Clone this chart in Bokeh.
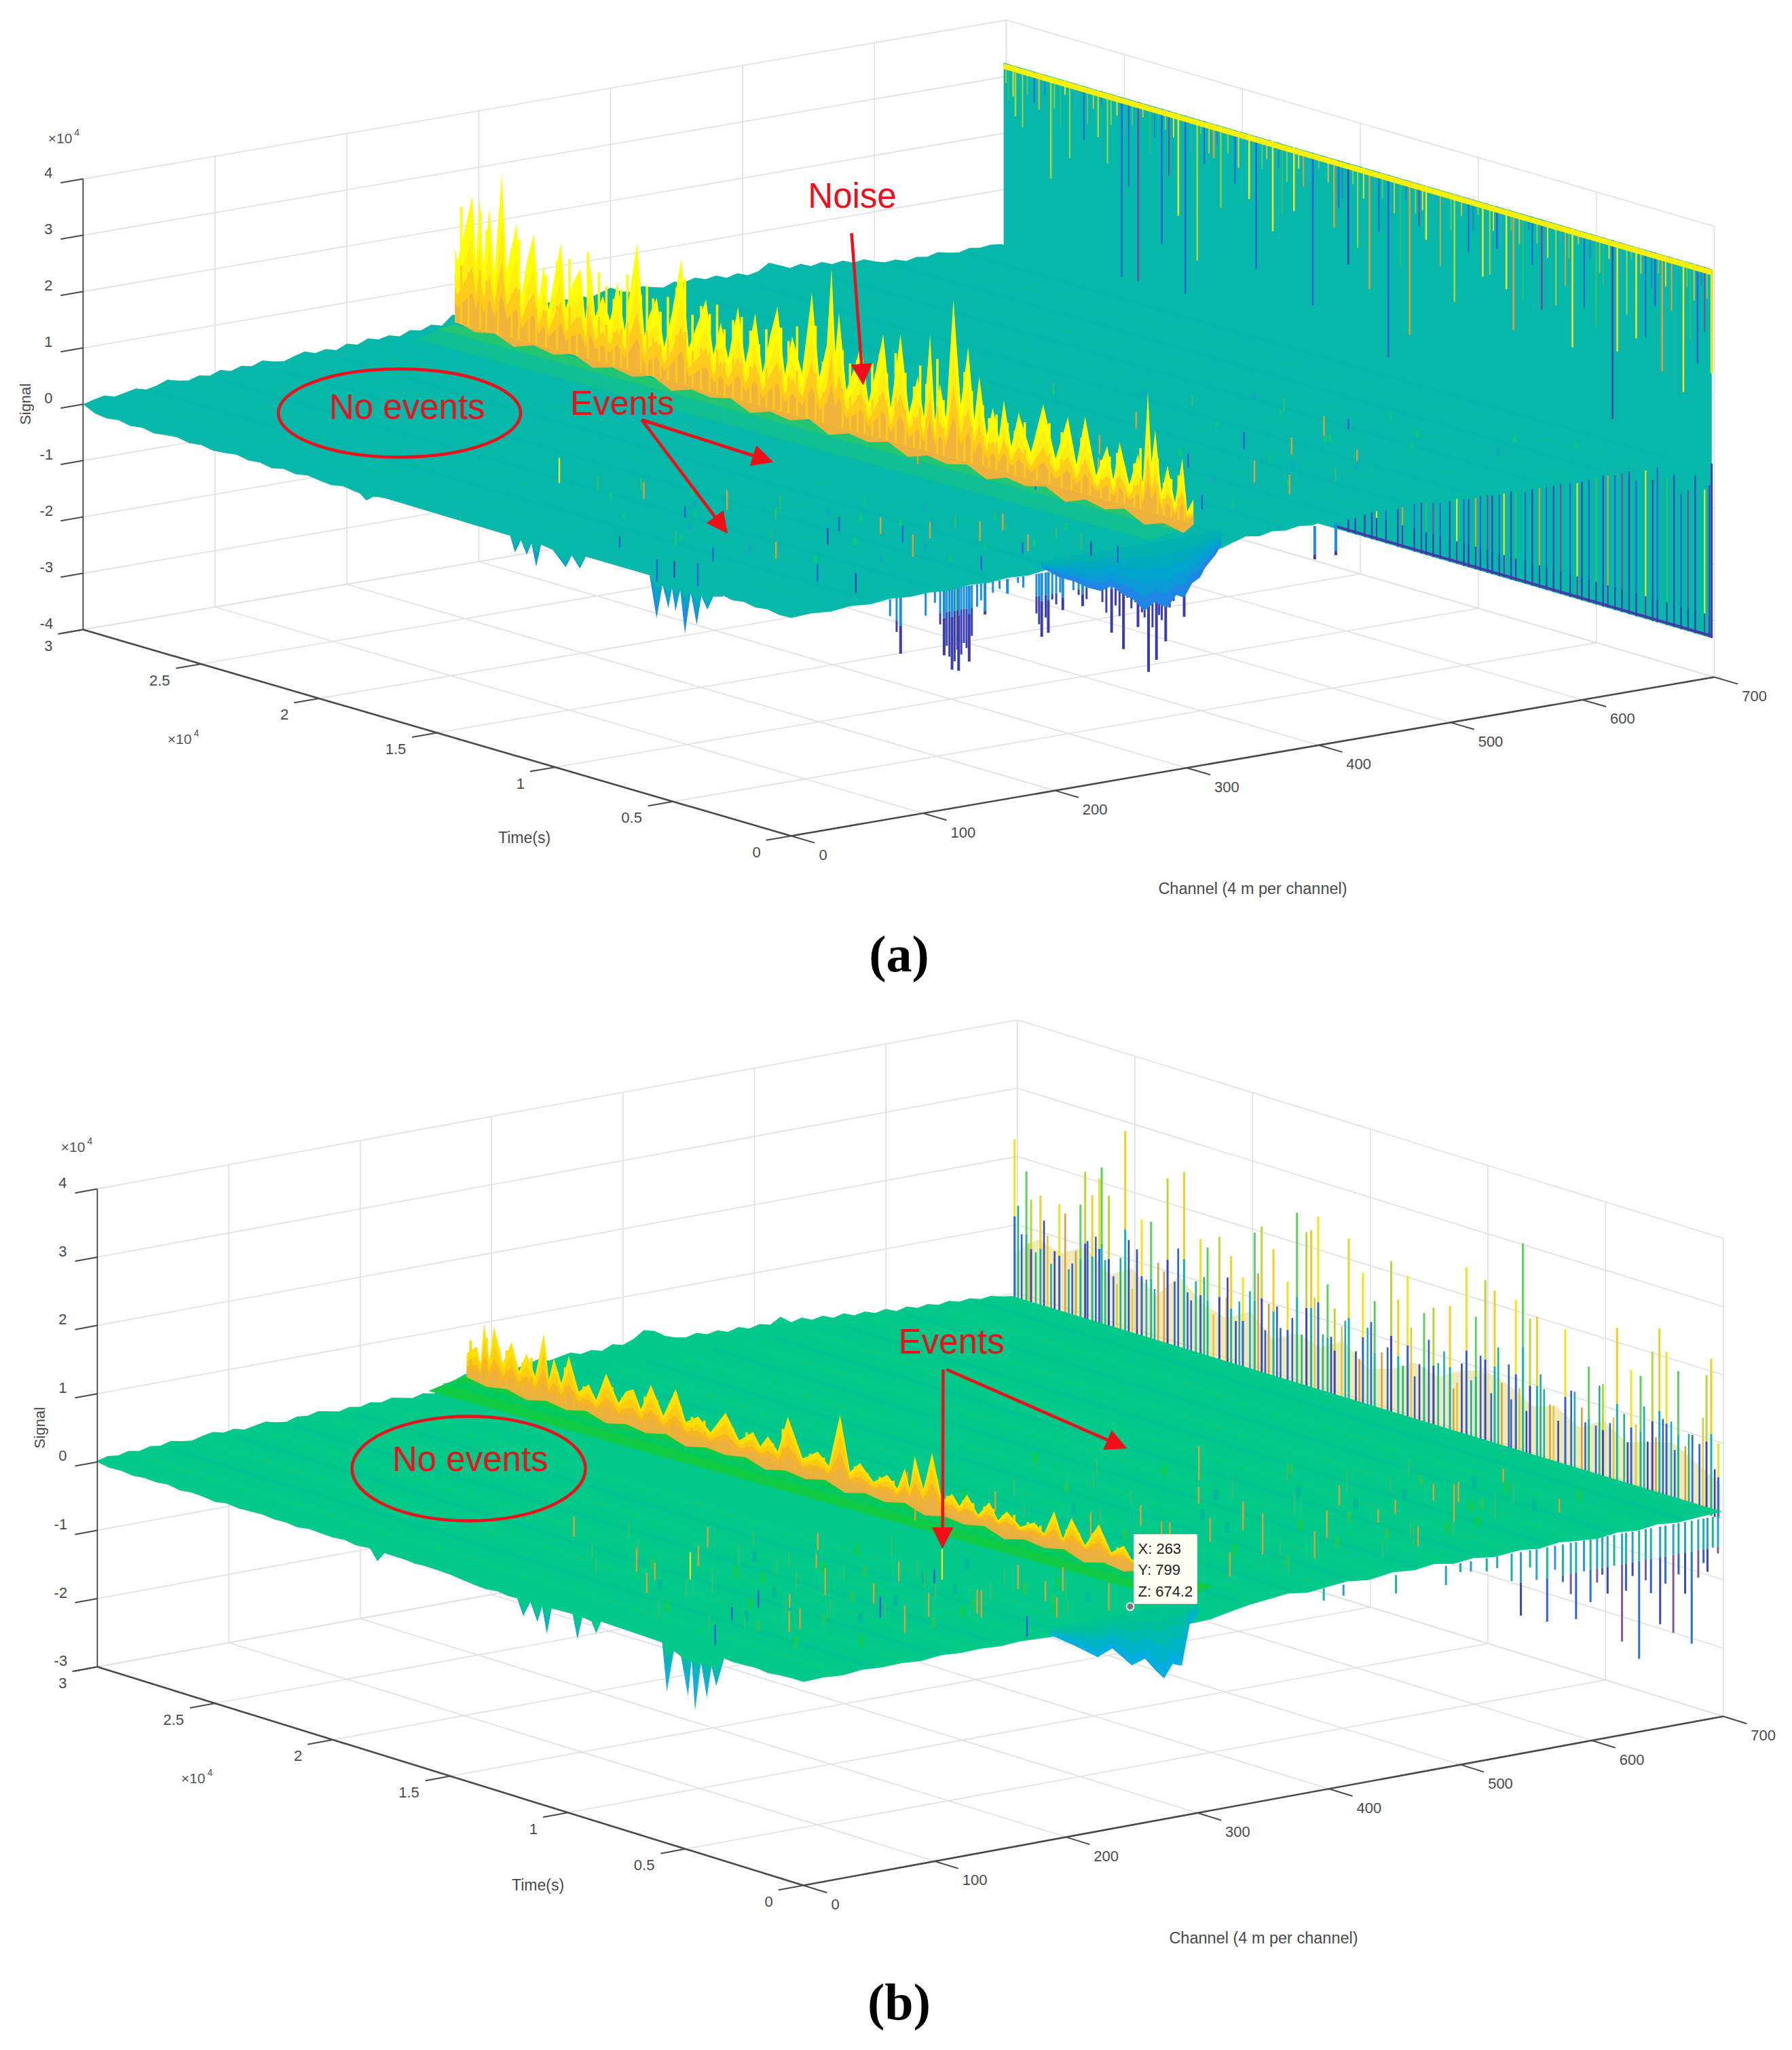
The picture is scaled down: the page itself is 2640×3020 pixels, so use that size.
import numpy as np
from bokeh.core.properties import value
from bokeh.embed import file_html
from bokeh.layouts import column
from bokeh.models import Arrow, NormalHead, Range1d
from bokeh.plotting import figure
from bokeh.resources import INLINE

# ---------- tick values and labels ----------
CHANNEL_TICKS = [0, 100, 200, 300, 400, 500, 600, 700]
CHANNEL_LABELS = ["0", "100", "200", "300", "400", "500", "600", "700"]
TIME_TICKS = [0, 5, 10, 15, 20, 25, 30]          # thousands of seconds
TIME_LABELS = ["0", "0.5", "1", "1.5", "2", "2.5", "3"]
A_SIGNAL_TICKS = [-40, -30, -20, -10, 0, 10, 20, 30, 40]   # thousands
A_SIGNAL_LABELS = ["-4", "-3", "-2", "-1", "0", "1", "2", "3", "4"]
B_SIGNAL_TICKS = [-30, -20, -10, 0, 10, 20, 30, 40]
B_SIGNAL_LABELS = ["-3", "-2", "-1", "0", "1", "2", "3", "4"]

BACK_STATIONS = list(range(0, 704, 8))
LEFT_STATIONS = [30 - .5 * i for i in range(61)]

# ---------- panel (a) surface outline ----------
A_back_z = [0,.5,.9,.4,.8,1.2,.7,1.1,1.8,1.3,1.0,1.6,1.2,1.9,1.4,2.0,1.6,2.3,1.8,1.5,2.1,2.6,2.0,2.4,1.9,2.7,2.2,3.0,2.5,2.9,2.4,3.2,2.8,3.5,3.0,4.6,4.2,3.6,4.0,3.4,3.9,3.3,4.1,3.5,3.8,4.4,3.7,4.2,3.4,4.0,4.6,3.6,3.2,3.9,3.4,3.0,3.7,3.3,3.8,3.2,3.5,2.8,3.3,2.6,3.0,4.2,3.4,2.6,3.0,2.3,2.7,2.0,2.3,1.6,1.9,1.2,.7,.9,.3,.7,.4,.9,.5,.2,.7,.4,.6,.4]
A_left_z = [0,-1.0,-1.3,-1.0,-1.4,-1.1,-1.5,-1.2,-1.0,-1.4,-1.1,-1.5,-1.3,-1.0,-1.4,-1.2,-1.6,-1.1,-1.4,-1.0,-1.3,-1.5,-1.1,-1.4,-1.6,-1.2,-1.0,-.8,-1.0,-.7,-.5,-.8,-.4,-.6,-.2,-.5,.1,.4,-.1,-.4,-.2,-.6,-.4,-.8,-.5,-.7,-.3,-.5,-.1,.2,-.3,-.6,-.4,-.9,-.7,-1.2,-.9,-1.3,-1.0,-1.4,-1.3]
A_front_c = [0,15,30,45,60,75,90,105,120,135,150,165,180,193,215,240,270,300,320,325,335,345,355,365,375,385,395,405,415,425,435,445,455,465,475,485,495,505,515,525,535,545,555,565,575,585,595,605,615,625,635,645,655,665,675,685,696]
A_front_z = [-1.3,-1.1,-1.4,-1.0,-1.3,-.9,-1.2,-1.0,-1.3,-.9,-1.1,-.8,-1.0,-.6,-.5,-.5,-.4,-.5,-.8,-2.2,-1.4,-.7,-1.1,-.6,-.9,-.5,-.8,-.4,-.7,-.9,-.5,-.2,-.6,-.3,0,-.4,-.8,-.5,-1.0,-.6,-1.2,-.8,-1.4,-1,-1.3,-.9,-1.4,-1.1,-.8,-1.2,-.9,-1.3,-1,-1.2,-1.4,-1,-.9]
A_sag_c = [190,203,215,225,235,243,250,259,268,276,285,292,298,304,310,314,318,322,326]
A_sag_z = [0,-2.2,-3.5,-5,-6,-5.4,-7,-8.4,-10.8,-9.6,-11,-9,-9.7,-7.4,-6.6,-5,-4,-3,-1.5]

# panel (a) noise ridge
A_ridge_t = [30.0,29.9,29.6,29.3,29.15,29.0,28.85,28.6,28.4,28.1,27.9,27.5,27.3,27.1,26.8,26.6,26.4,26.2,26.0,25.7,25.5,25.2,24.9,24.7,24.5,24.3,24.0,23.7,23.4,23.1,22.9,22.6,22.3,22.1,21.8,21.5,21.2,20.8,20.5,20.2,19.8,19.5,19.2,18.9,18.5,18.2,17.8,17.5,17.2,16.9,16.6,16.3,15.9,15.5,15.2,14.9,14.7,14.55,14.4,14.1,13.8,13.5,13.2,12.9,12.6,12.3,11.9,11.55,11.2,10.95,10.7,10.5,10.3,10.05,9.75,9.45,9.15,8.9,8.7,8.4,8.15,7.9,7.7,7.4,7.1,6.6,6.1,5.6,5.1,4.75,4.4,3.95,3.5,3.25,3.0,2.6,2.25,2.05,1.85,1.7,1.55,1.3,1.05,.75,.45,.25,0.0]
A_ridge_z = [16.5,14,20,26.5,15,26.3,15,25,14,31.8,15,23.7,11,17,22.7,11,17.6,10,15,22.4,11,16,18.8,10,20.2,11,15,11,18.2,10,17,26.1,10,14,17.3,9,15,25.5,10,14,19.4,10,16,10,19.6,10,19.3,9,16,21.6,10,17,11,25.7,11,17,31,16,23.4,10,14,18.9,9,15,21.8,9,22.6,9,16,9,24,9,15.7,10,31.3,13,23.6,11,19,9,14,9,15.9,8,14.3,8,17.1,8,16,8,16.9,7,12.8,7,14.1,7,12.9,8,24.3,12,18,7,12.2,6,14.3,5,7.5]
A_extra_t = [29.75,29.45,28.98,28.72,28.25,27.7,27.4,27,26.7,26.3,25.85,25.35,25.05,24.6,24.15,23.85,23.55,23.25,23,22.45,22.2,21.95,21.65,21.35,21,20.65,20.35,20,19.65,19.35,19.05,18.7,18.35,18,17.65,17.35,17.05,16.75,16.45,16.1,15.7,15.35,15.05,14.25,13.95,13.65,13.35,13.05,12.75,12.45,12.1,11.7,11.35,11.1,10.85,10.4,10.15,9.6,9.3,9,8.55,8.3,8,7.55,7.25,6.85,6.35,5.85,5.35,4.95,4.55,4.2,3.75,3.4,3.1,2.8,2.4,2.15,1.45,1.2,.9,.6,.35]
A_extra_z = [24,22,24,21,20,19,21,18,16,16,19,20,17,22,19,17,15,17,20,17,19,17,15,18,20,22,16,18,17,19,15,17,18,16,14,17,15,18,16,19,17,20,14,17,15,16,14,16,18,15,19,16,14,18,15,20,13,15,19,16,14,12,13,12,11,13,12,14,13,11,13,11,10,11,12,10,11,14,13,9,10,11,8]
A_floor_t = [30,29.2,28.4,27.6,26.8,26,25.2,24.4,23.6,22.8,22,21.2,20.4,19.6,18.8,18,17.2,16.4,15.6,14.8,14,13.2,12.4,11.6,10.8,10,9.2,8.4,7.6,6.8,6,5.2,4.4,3.6,2.8,2,1.2,.4,0]
A_floor_z = [3.5,2.4,3.1,1.7,2.9,2.2,3.3,1.8,2.8,2.1,3.2,1.5,2.7,2.2,3,1.4,2.6,2,3.1,1.3,2.5,1.9,2.9,1.2,2.4,1.8,2.7,1,2.3,1.7,2.6,.8,2.2,1.4,2.5,.6,1.8,1,3]

# panel (a) spikes hanging under the edges
A_left_spike_t = [18.4,18,17.6,11.9,11.7,11.45,11.2,11,10.8,10.6,10.1,9.55,9.3,8.95,8.7,6.0,5.7,5.45,5.2,5.05,4.9,4.7,4.5,4.25,4,3.8,3.55,3.3,2.9]
A_left_spike_z = [-1,-2.4,-1,-1.2,-3.9,-1.4,-3.7,-1.4,-5.3,-1.2,-1.5,-3.9,-1.5,-3.4,-1,-1,-8.3,-2,-5.9,-2,-6.1,-2,-9.6,-2,-7.4,-2,-4.1,-1.5,-1]
A_front_spike_c = [83,116,122,127,135,147,164,190,195,206,221,243,252,263,271,277,284,298,306,397,413]
A_front_spike_z = [-11,-12.6,-15.4,-15.8,-14.5,-6.6,-3.6,-12.3,-11.8,-8.2,-8.1,-13.7,-17,-13.5,-21.8,-19.9,-16.9,-13.1,-7,-6.9,-6.8]
A_front_line_c = [75,80,102,109,113,118,120,124,126,129,131,133,137,141,144,153,158,172,176,186,188,193,198,201,204,210,214,218,224,228,232,236,239,246,249,255,258,261,266,268,274,279,281,287,290,294,301]
A_front_line_z = [-4,-7,-5,-3,-7,-11,-13,-14,-12,-13,-11,-12,-10,-5,-4,-3,-2.5,-2,-3,-8,-10,-9,-6,-7,-5,-3,-5,-6,-7,-5,-4,-8,-10,-9,-11,-8,-10,-9,-11,-12,-14,-12,-13,-11,-10,-9,-5]

# panel (a) wall at the far channel: stripes hanging from the top edge
A_wall_t = [29.5,28,26,25,24.3,23.3,22.6,22.3,21.8,21.1,19.6,19.3,18.6,17.7,16.9,16,15.4,14.5,13.7,12.8,12.1,10.9,9.7,9.1,8.7,8.4,7.2,5.9,4.9,4.2,4,3.2,2.4,2.1,1.2,.6]
A_wall_z = [23.6,14.4,24.2,.6,.7,8.5,14.4,.9,7.4,26.5,21,9,16.5,21.2,5.4,20.3,14.5,11.2,.1,5.2,22.9,13.4,19.3,25,18.3,11.4,16.5,11.4,16.3,.7,13,16.3,23.1,11.8,9.2,15]
A_wall_col = ["YG","YG","YG","B","P","B","Y","B","YG","O","Y","B","Y","Y","B","O","D","O","B","O","Y","YG","Y","B","Y","O","P","Y","G","D","Y","Y","B","O","Y","B"]
A_wall2_t = [29.8,29.2,28.7,27.6,27.2,26.6,25.6,24.7,23.8,23,21.5,20.8,20.2,18.2,17.3,15.8,15,14.1,13.2,12.4,11.5,10.3,9.4,8,7.6,6.6,6.2,5.4,4.6,3.6,2.8,1.7,.9,.3]
A_wall2_z = [26,22,27,24,19,23,20,17,24,21,25,18,23,20,26,24,18,22,17,25,19,23,20,17,24,18,22,19,24,20,17,23,19,21]
A_wall2_col = ["G","YG","B","G","YG","B","YG","B","G","P","B","YG","B","G","O","B","YG","B","G","P","O","B","YG","G","B","YG","O","B","G","YG","B","O","G","P"]
A_fuzz_t = [29.9,29.6,29.35,29,28.5,28.25,27.85,27.4,26.95,26.45,26.2,25.85,25.45,25.2,24.85,24.55,24.1,23.6,23.15,22.8,22.05,21.65,21.3,20.95,20.5,20.05,19.75,19.05,18.85,18.35,18,17.5,17.05,16.65,16.25,15.65,15.2,14.75,14.3,13.95,13.45,12.95,12.55,12.25,11.8,11.05,10.6,10.1,9.9,9.25,8.95,8.5,8.15,7.75,7.4,6.95,6.4,6.05,5.65,5.15,4.75,4.35,3.85,3.4,3,2.55,2.25,1.95,1.45,1.05,.75,.45,.2]
A_fuzz_z = [29,27,30,28,26,29,27,30,28,26,29,30,27,29,26,28,30,27,29,28,26,30,27,29,28,26,30,27,29,28,26,29,27,30,28,26,29,27,30,28,26,29,27,28,30,26,29,27,30,28,26,29,27,30,28,26,29,27,30,28,26,29,27,30,28,26,29,27,30,28,26,29,27]
# stripes rising from the bottom edge, seen under the surface
A_low_t = [15.4,15.1,14.7,14.4,14.2,13.8,13.3,13.1,12.6,12.3,12.1,11.8,11.5,11.1,10.8,10.5,10.3,10,9.8,9.5,9.3,9,8.8,8.5,8.3,7.9,7.6,7.3,7,6.7,6.4,6,5.7,5.5,5.2,4.9,4.6,4.4,4.1,3.8,3.5,3.2,2.8,2.5,2.3,1.9,1.6,1.3,1,.7,.3,.1]
A_low_top = [-8,-6,-8,-6,-7,-5,-7,-6,-8,-5,-7,-6,-8,-5,-7,-9,-6,-8,-5,-7,-6,-8,-5,-9,-6,-7,-5,-8,-6,-9,-5,-7,-6,-8,-5,-9,-7,-6,-8,-5,-7,-9,-6,-8,-5,-7,-6,-9,-8,-5,-7,-6]
A_low_col = ["D","B","P","D","Y","B","D","O","B","D","G","P","B","D","Y","B","D","O","B","P","D","B","Y","D","G","B","D","O","B","D","P","B","Y","D","B","G","D","O","B","P","D","B","Y","D","B","G","D","B","P","D","Y","D"]

# panel (a) small event traces on the surface
A_event_c = [98,104,112,120,126,134,142,153,160,168,176,184,192,204,214,222,232,244,256,40,52,66,78,88,92,20,26,33,146,180,210,238,262,300,318,332,346,360,372,388,402,418,430,446,462,478,494,508,526,540,560,580,345,385,428,470,515]
A_event_t = [15.3,14,12.5,11.2,13.4,10.2,8.6,7,9.4,5.6,7.8,4.4,6,3.4,5,2.6,4,2.4,1.6,9.5,7.8,7,5,3.8,2.4,6.8,6.4,5.8,3,2,1.7,1,.8,11.4,9.8,8.2,13,7.1,11.6,5.2,9.4,13.7,4.4,8.1,11.2,15.6,6.4,9.2,12.4,7.6,10.4,8.8,3.6,4.1,2.8,3.2,4.8]
A_event_z = [4.5,2.5,3,-2,2,3.5,2,-3,2.5,3,-2.5,3,-3,3.5,2,-2,3,2,-2.5,-2,2.5,-2.5,3,-3,-3.5,-4,-3,-4,4,-2.5,3,3,-3,3,2,-2,2.5,4,2,-3,3.5,2,4,-2.5,3,2,3,-3,2,3.5,2.5,-2,3.5,-2.5,3.5,2.5,2]
A_event_col = ["Y","G","O","B","G","O","G","D","G","O","B","O","B","O","G","B","O","G","D","B","G","B","O","B","D","B","D","B","O","B","O","G","B","O","G","B","G","O","G","B","O","G","O","B","O","G","O","B","G","O","G","B","O","B","O","G","O"]
A_speck_c = [70,84,96,110,124,138,150,164,178,192,206,220,234,248,262,60,76,90,106,122,140,156,172,190,208,226,244,310,326,342,358,374,390,406,422,438,454,470,486,502,518,534,550,566,582,598,320,350,380,410,440,470,500,530,560,590,620,640]
A_speck_t = [11,9,13,7,11,5,9,3.5,7,2.5,5.5,2,4,1.5,3,8,6,4,10,3,12,2,8,6,8.5,7,5,14,11,16,9,13,6,15,11,8,17,5,12,10,14,7,10,12,6,8,3,4,2.5,5,3.5,6,4,7,5,3,4,2.5]

# ---------- panel (b) surface outline ----------
B_back_z = [.2,.6,.4,.8,.5,.9,.7,1.1,.8,.6,1.0,1.3,.9,1.2,.8,1.1,1.4,1.0,.8,1.3,1.1,1.5,1.2,.9,1.3,1.0,1.4,1.1,1.5,1.2,.9,1.3,1.0,1.2,2.4,3.0,2.7,3.1,2.6,2.9,2.5,2.8,3.2,2.7,3.0,3.3,2.8,3.1,2.7,3.4,3.0,3.6,4.6,4.2,3.2,2.7,2.4,2.8,2.3,2.6,2.1,2.5,2.0,2.4,2.0,2.9,1.8,2.2,1.6,1.9,1.3,1.7,1.1,1.4,.9,1.2,.6,1.0,.5,.8,.4,.7,.3,.5,.1,.3,-.1,-.3]
B_left_z = [0,-.3,-.2,-.4,-.2,-.3,-.1,-.4,-.2,-.3,-.5,-.2,-.4,-.3,-.2,-.4,-.3,-.5,-.2,-.3,-.4,-.2,-.5,-.3,-.4,-.2,-.3,-.5,-.3,-.4,-.5,-.7,-.9,-1,-.8,-1,-.9,-.7,-1,-.8,-.6,-.7,-.5,-.4,-.6,-.4,-.5,-.7,-.5,-.6,-.4,-.6,-.5,-.3,-.5,-.4,-.3,-.5,-.3,-.2,-.2]
B_front_c = [0,15,30,45,60,75,90,105,120,135,150,165,188,230,270,294,310,325,340,355,369,384,399,414,430,449,465,480,495,510,525,546,560,575,590,605,620,635,650,665,680,699]
B_front_z = [-.2,-.1,-.3,0,-.2,-.1,-.3,0,-.2,-.1,-.3,-.1,-.3,-.5,-.5,-2.1,-2,-1.4,-.9,-.6,-.3,-.7,-.4,-.1,-.5,0,-.3,.1,-.4,-.1,-.5,-.2,-.5,-.1,-.4,-.6,-.2,-.5,-.1,-.4,-.2,0]
B_sag_c = [188,205,224,235,250,260,268,274.5,281,288,294,300]
B_sag_z = [0,-2,-4.5,-3.6,-6.6,-6,-8,-9.4,-7.5,-8,-2.1,-1]

B_ridge_t = [30,29.6,29.45,29.3,29.1,28.9,28.55,28.2,27.9,27.6,27.25,26.9,26.7,26.5,26.2,25.9,25.5,25.1,24.8,24.4,23.9,23.6,23.3,23,22.6,22.1,21.6,21.2,20.7,20.2,19.6,19.05,18.5,18.2,17.9,17.5,17.1,16.5,15.9,15.45,15,14.6,14.2,13.65,13.1,12.7,12.4,12.2,12,11.65,11.3,10.9,10.5,10.2,9.9,9.45,9,8.65,8.3,7.75,7.2,6.8,6.4,6.05,5.7,5.15,4.6,4.1,3.6,3.3,3]
B_ridge_z = [6,7.4,5,11.1,6,11,6,9.5,5.5,8.4,5.5,12.1,5.5,8.9,5.5,9.8,5,6.5,4.5,8.8,5,7,7.6,5,9,5,9.4,5,6.3,4.5,8,4.5,6.3,4.5,6.3,4.5,10,4.5,6.1,4.5,12.5,4.5,6.2,4,5.6,4,7.3,4.5,9.5,5,10.7,4,5.5,4,6,3.5,5.8,3.5,5.2,3.5,4.7,3.5,7.2,3.5,6.9,3.5,7.1,3.5,5,3.4,3]
B_extra_t = [29.85,29.2,28.7,28.4,28.05,27.75,27.4,27.05,26.35,26.05,25.7,25.3,24.6,24.15,23.75,23.45,22.85,22.35,21.85,21.4,20.95,20.45,19.9,19.3,18.75,17.7,17.3,16.8,16.2,15.65,15.2,14.8,14.4,13.9,13.4,12.85,11.85,11.1,10.7,10.05,9.65,9.2,8.85,8.45,8,7.45,6.95,6.6,5.9,5.4,4.85,4.35,3.85]
B_extra_z = [8,9,8,8,7,7,8,8,7,8,7,6,6,7,6,7,7,7,7,7,6,6,6,6,6,5.5,8,7,5.5,5.5,8,6,5.5,5,5,5,6,7,5,5,5,5,5,4.5,5,4.5,4.5,5,5,5,5.5,4.5,4.5]
B_floor_t = [30,29.2,28.4,27.6,26.8,26,25.2,24.4,23.6,22.8,22,21.2,20.4,19.6,18.8,18,17.2,16.4,15.6,14.8,14,13.2,12.4,11.6,10.8,10,9.2,8.4,7.6,6.8,6,5.2,4.4,3.6,3]
B_floor_z = [2.5,1.9,2.4,1.6,2.3,1.8,2.5,1.5,2.2,1.7,2.4,1.4,2.1,1.8,2.3,1.3,2,1.6,2.3,1.2,2,1.5,2.2,1.2,1.9,1.5,2.1,1,1.8,1.4,2,.9,1.7,1.2,2]

B_left_spike_t = [18.4,18.1,17.8,12.2,11.9,11.6,11.3,11.1,10.9,10.7,9.8,9.6,9.4,9,8.8,8.6,6,5.8,5.5,5.2,4.9,4.75,4.6,4.35,4.1,3.9,3.7,3.4]
B_left_spike_z = [-.3,-1.8,-.3,-.5,-3.2,-.8,-3.4,-.9,-4.7,-.8,-.7,-4.1,-.7,-.9,-2.4,-.5,-.8,-7.8,-1.5,-2,-7.5,-2,-9.3,-2,-6.9,-2,-4.7,-.7]
B_front_line_c = [396,411,451,489,500,508,520,528,539,546,553,558,566,572,578,584,588,594,599,604,608,612,617,623,626,631,636,641,645,652,656,662,666,671,676,681,685,688,692,696]
B_front_line_z = [-2.3,-2.1,-3.2,-3.3,-1.8,-2,-2.4,-2.2,-4.5,-9.8,-3,-5,-11.4,-4,-6,-8,-11.8,-5,-9.7,-7,-6,-8.9,-5,-16.3,-9,-7,-19.3,-8,-10,-14.8,-9,-16.4,-8,-11,-18.5,-9,-7,-8.4,-5,-6]

# spikes along the far channel
B_spike_t = [30,29.5,29.3,28.9,28.1,27.2,27,26.7,26.4,26.3,26,25.3,24.6,24.2,23.5,22.8,22.1,21.8,21.3,20.8,20.3,19.8,19.5,19,18.4,18,17.6,17.4,17.1,16.7,16.4,15.8,15.2,14.7,14,13.7,13.3,12.6,12.2,11.5,10.8,10.4,10,9.6,8.7,8.4,8.1,7.8,6.6,5.6,5,4.4,3.8,3.4,2.9,2.6,2.3,1.8,.6,.4,.1]
B_spike_z = [22.6,18.4,14.5,15.5,15.1,16,21,17.9,20.7,22.4,18.6,28.8,16.6,16.7,23.8,25.5,16.4,15.5,17.6,15.3,12.7,19.8,21,18.2,14.1,24.6,22.2,22.7,25,15.5,12.3,23.2,18.8,15.2,21.8,16.5,20.4,15.7,16.9,17.9,24.3,17.5,23.3,22.2,21.8,30.4,19.7,20.3,19.7,15.3,13.4,22.3,16.7,16.3,20.4,24.1,21,18.7,19.4,22,10]
B_stem_t = [29.7,29.1,28.6,28.3,27.7,27.4,26.9,25.8,25.5,25,24.8,24.4,23.9,23.2,22.5,22.3,21,20.6,20,19.2,18.7,18.2,16.9,16.1,15.5,15,14.4,13,12.4,12,11.2,11,10.6,9.3,9,8.9,7.5,7.1,6.9,6.2,5.9,5.3,4.7,4.1,3.6,3.1,2.1,1.5,1.2,.9,29.85,29.4,28.75,28.45,27.85,27.55,26.55,26.15,25.65,25.15,24.05,23.65,23.05,22.65,21.95,21.55,20.95,20.45,19.65,19.35,18.85,17.8,17.25,16.55,15.95,15.35,14.85,14.15,13.5,13.15,12.8,11.75,11.35,10.2,9.75,9.45,8.55,8.25,7.65,7.25,6.35,5.75,5.15,4.55,3.95,3.25,2.75,2.45,1.95,1.35,.75,.25]
B_stem_z = [9,7,10,8,6,9,11,7,10,6,12,8,11,9,7,10,9,6,11,10,7,9,8,10,7,11,8,6,12,9,7,10,8,9,12,7,10,8,6,11,9,7,8,10,9,7,11,8,10,9,13,8,12,6,14,7,12,9,6,13,7,10,14,8,11,6,12,9,14,6,10,7,13,8,11,6,12,9,7,13,8,11,6,12,7,14,9,6,12,8,11,7,13,9,6,12,8,11,7,10,13,6]
B_haze_t = [30,29,28,27,26,25,24,23,22,21,20,19,18,17,16,15,14,13,12,11,10,9,8,7,6,5,4,3,2,1,0]
B_haze_z = [6,9,8,10,7,9,6,10,7,6,8,5,7,6,8,5,6,8,7,9,10,9,7,8,6,8,6,7,8,6,4]

B_event_c = [60,72,80,88,94,102,110,118,126,134,142,150,158,166,174,182,190,198,206,214,222,230,238,246,254,262,90,112,136,160,184,208,232,30,44,52,68,300,316,330,344,358,372,386,400,414,428,442,456,470,484,498,512,526,540,556,572,588,604,330,364,398,432,466,500,534,66,78,92,106,122,138,152,168,186,200,218,234,250,36,84,116,148,180,212,244,325,352,378,408,436,462,490,518,548,578,612,640,300,340,380,420,460,500,540,580,620]
B_event_t = [10,9,7.5,12,6,10.5,5,8.5,11.5,4,7,9.5,3.5,6,8,2.6,5,7,2,4,6.5,1.6,3,5.2,1.2,3.6,14,16,15,13,12.4,11,9.2,7.8,6.2,5.4,4.4,12,9,14,7,10.6,5.2,12.6,8,3.6,10,6,13,4,8.8,11,2.8,6.6,9.6,3.4,7,5,8,3,2.2,1.6,2.4,1.4,1.8,2.2,12.5,4.5,9,6.5,2.5,8,5.5,10,3,6,1.4,7.5,2.8,6,11,13.5,11,9.5,7,4.5,15,11.5,8.5,5.5,12,9,6.5,4.5,7.5,5.5,4,6,2.5,4,6,3.2,7,2,5,3,2.5]
B_event_z = [3,2.5,-2,3.5,2,4,2.5,-2.5,3,2.5,4,2,3.5,-3,2.5,4,2,3,-3,2.5,4.5,2,3,2,4,3.5,2,3,2.5,3,2,2.5,3,2.5,-3,2,3,3.5,2.5,4,5,2,4.5,2.5,3,6,2,3.5,2.5,4,3,5,2,3,2.5,5.5,2,3,2.5,2,3.5,2,4,2.5,3,2,2.5,3,3.5,2,4,2.5,3,2,3.5,2.5,3,-2,3,2,2.5,2,3,2,2.5,3.5,2,3,2.5,3.5,2,2.5,3,2,3.5,2.5,3,2,2.5,3,3.5,2,2.5,3,2,3.5,2]
B_event_col = ["O","G","B","O","G","Y","G","B","O","G","O","G","O","B","G","O","G","O","B","G","Y","G","O","G","O","O","G","O","G","O","G","O","G","G","B","G","O","O","G","O","O","G","O","G","O","O","G","O","G","O","G","O","G","O","G","O","G","O","G","G","O","G","O","G","O","G","G","O","G","O","O","G","O","G","O","G","O","B","G","G","O","G","G","O","G","O","G","O","G","O","G","O","G","O","G","O","G","O","O","G","O","G","O","G","O","G","O"]
B_speck_c = [40,55,70,85,100,115,130,145,160,175,190,205,220,235,250,265,48,64,80,96,112,128,144,160,176,192,208,224,240,256,310,325,340,355,370,385,400,415,430,445,460,475,490,505,520,535,550,565,580,595,610,625,318,348,378,408,438,468,498,528,558,588,618,648]
B_speck_t = [8,5,10,7,12,4,9,6,11,3,8,5,10,2.5,7,4,3,6,2,4.5,7.5,10,2.5,5,9,3.5,6.5,1.8,4,2.2,8,11,5,13,7,10,4,12,6,15,3,9,12,5,8,2.5,10,6,4,7,3,5,3,4.5,6,2.2,7.5,5,3,6,2.5,4,6,3.2]

STREAK_CHANNELS = [30,55,82,105,128,150,176,198,222,330,350,372,395,418,442,468,492,515,540,566,590,615,640,668]
TIP_CHANNEL, TIP_TIME, TIP_SIGNAL = 263, 0.799, 0.6742

# ---------- style ----------
TEXT_FONT = value("Liberation Sans")
RED = "#f20d18"
PAL = {"Y": "#f4e21c", "YG": "#a8d43c", "B": "#2f62d8", "D": "#3b46b8", "P": "#7a4aa0",
       "O": "#e0a038", "G": "#34c070"}


def pair(a, b):
    n = min(len(a), len(b))
    return np.asarray(a[:n], float), np.asarray(b[:n], float)


class Panel:
    def __init__(self, p, x0, y0, cx, cy, tx, ty, zk, zmin, zmax):
        self.p, self.x0, self.y0, self.cx, self.cy = p, x0, y0, cx, cy
        self.tx, self.ty, self.zk, self.zmin, self.zmax = tx, ty, zk, zmin, zmax

    def xy(self, c, t, z):
        c, t, z = np.asarray(c, float), np.asarray(t, float), np.asarray(z, float)
        return (self.x0 + self.cx * c + self.tx * t + 0 * z,
                self.y0 + self.cy * c + self.ty * t - self.zk * (z - self.zmin))

    def poly(self, c, t, z, color, alpha=1.0):
        x, y = self.xy(c, t, z)
        self.p.patch(list(x), list(y), fill_color=color, line_color=None, fill_alpha=alpha)

    def segs(self, c0, t0, z0, c1, t1, z1, colors, width=1.5, alpha=1.0):
        x0, y0 = self.xy(c0, t0, z0)
        x1, y1 = self.xy(c1, t1, z1)
        xs = [[a, b] for a, b in zip(x0, x1)]
        ys = [[a, b] for a, b in zip(y0, y1)]
        if isinstance(colors, str):
            colors = [colors] * len(xs)
        self.p.multi_line(xs, ys, line_color=list(colors)[:len(xs)], line_width=width, line_alpha=alpha)

    def bands(self, c, t, z, base, pairs):
        c, t, z = np.asarray(c, float), np.asarray(t, float), np.asarray(z, float)
        for f, col in pairs:
            zz = base + (z - base) * f
            self.poly(np.r_[c, c[::-1]], np.r_[t, t[::-1]], np.r_[zz, np.full(len(z), base)], col)

    def clamp_bands(self, c, t, z, base, pairs):
        """colour by signal level: each level paints what lies above it."""
        c, t, z = np.asarray(c, float), np.asarray(t, float), np.asarray(z, float)
        for lev, col in pairs:
            zz = np.maximum(z, lev)
            self.poly(np.r_[c, c[::-1]], np.r_[t, t[::-1]], np.r_[zz, np.full(len(z), base)], col)

    def frame(self, sig_ticks):
        gc, w = "#e0e0e0", 1.6
        ct = np.array(CHANNEL_TICKS, float)
        tt = np.array(TIME_TICKS, float)
        zt = np.array(sig_ticks, float)
        n = np.zeros
        zb, zt_top = self.zmin, self.zmax
        self.segs(ct, n(8), n(8) + zb, ct, n(8) + 30, n(8) + zb, gc, w)
        self.segs(n(7), tt, n(7) + zb, n(7) + 700, tt, n(7) + zb, gc, w)
        self.segs(ct, n(8) + 30, n(8) + zb, ct, n(8) + 30, n(8) + zt_top, gc, w)
        self.segs(n(7) + 700, tt, n(7) + zb, n(7) + 700, tt, n(7) + zt_top, gc, w)
        m = len(zt)
        self.segs(n(m), n(m) + 30, zt, n(m) + 700, n(m) + 30, zt, gc, w)
        self.segs(n(m) + 700, n(m) + 30, zt, n(m) + 700, n(m), zt, gc, w)

    def axes(self, sig_ticks, sig_labels):
        dark = "#4a4a4a"
        ct = np.array(CHANNEL_TICKS, float)
        tt = np.array(TIME_TICKS, float)
        zt = np.array(sig_ticks, float)
        zb = self.zmin
        self.segs([0], [30], [zb], [0], [30], [self.zmax], "#333333", 1.6)
        self.segs([0], [30], [zb], [0], [0], [zb], dark, 2.6)
        self.segs([0], [0], [zb], [700], [0], [zb], dark, 2.6)
        n = np.zeros
        self.segs(ct, n(8), n(8) + zb, ct, n(8) - 1.0, n(8) + zb, dark, 2)
        self.segs(n(7), tt, n(7) + zb, n(7) - 19, tt, n(7) + zb, dark, 2)
        self.segs(n(len(zt)), n(len(zt)) + 30, zt, n(len(zt)) - 17, n(len(zt)) + 30, zt, dark, 2)
        x, y = self.xy(ct, n(8), n(8) + zb)
        lab_x = x + np.array([47] + [59] * 7)
        self.text(lab_x, y + 28, CHANNEL_LABELS)
        x, y = self.xy(n(7), tt, n(7) + zb)
        lab_x = x - np.array([51 if len(s) == 1 else 61 for s in TIME_LABELS])
        self.text(lab_x, y + 24, TIME_LABELS)
        x, y = self.xy(n(len(zt)), n(len(zt)) + 30, zt)
        lab_x = x - np.array([51 if len(s) == 1 else 54 for s in sig_labels])
        self.text(lab_x, y - 9, sig_labels)

    def text(self, x, y, labels, size="22px", color="#4a4a4a", font=TEXT_FONT, angle=0, style="normal"):
        self.p.text(list(x), list(y), text=list(labels), text_font=font, text_font_size=size,
                    text_color=color, text_align="center", text_baseline="middle", angle=angle,
                    text_font_style=style)


def make_fig(top, bottom):
    p = figure(width=2624, height=bottom - top, x_range=Range1d(0, 2624), y_range=Range1d(bottom, top),
               toolbar_location=None, output_backend="svg", min_border=0, tools="")
    p.axis.visible = False
    p.grid.visible = False
    p.outline_line_color = None
    return p


def times10(g, x, y):
    g.text([x - 2], [y + 2], ["×10"], size="21px", color="#555555")
    g.text([x + 23], [y - 7], ["4"], size="14px", color="#555555")


def surface(g, bz, lz, fc, fz, color):
    bc, bz = pair(BACK_STATIONS, bz)
    lt, lz = pair(LEFT_STATIONS, lz)
    fc, fz = pair(fc, fz)
    c = np.r_[bc, fc[::-1], np.zeros(len(lt) - 1)]
    t = np.r_[np.full(len(bc), 30.0), np.zeros(len(fc)), lt[::-1][1:]]
    z = np.r_[bz, fz[::-1], lz[::-1][1:]]
    g.poly(c, t, z, color)


def arrow(p, x0, y0, x1, y1):
    p.add_layout(Arrow(end=NormalHead(size=30, fill_color=RED, line_color=RED), x_start=x0, y_start=y0,
                       x_end=x1, y_end=y1, line_color=RED, line_width=4.5))


def events(g, c, t, z, cols, base=0.0):
    n = min(len(c), len(t), len(z), len(cols))
    g.segs(c[:n], t[:n], np.full(n, base), c[:n], t[:n], z[:n], [PAL[k] for k in cols[:n]], 2.4)


def down_lines(g, c, t, z, split, upper, lower, width=3):
    n = len(z)
    zs = np.maximum(z, split)
    g.segs(c, t, np.full(n, -1.0), c, t, zs, upper, width)
    g.segs(c, t, zs, c, t, z, lower, width)


def ridge(g, rc_of, rt, rz, et, ez, ft, fz, base, extra_col, floor_col, pairs):
    ec = rc_of(et)
    g.segs(ec, et, np.full(len(et), base), ec, et, ez, extra_col, 3.5)
    g.poly(np.r_[rc_of(ft), rc_of(ft[::-1])], np.r_[ft, ft[::-1]],
           np.r_[np.full(len(ft), base + .6), fz[::-1]], floor_col)
    g.bands(rc_of(rt), rt, rz, base, pairs)
    g.segs(ec, et, np.full(len(et), base), ec, et, base + (ez - base) * .5, pairs[2][1], 3)


# ====================== panel (a) ======================
pa = make_fig(0, 1502)
A = Panel(pa, 1165, 1231, 1.943, -0.3343, -34.77, -10.13, 8.3, -40, 40)
A.frame(A_SIGNAL_TICKS)

TEAL = "#05b8a9"
A.poly([698] * 4, [30, 0, 0, 30], [32.5, 32.5, -33, -33], TEAL)
ft, fz = pair(A_fuzz_t, A_fuzz_z)
fcols = ["#7fd05a", "#e8dc30", "#2fa8c8", "#5ac878", "#d8c040", "#2a7fd0"]
wall = np.full(len(ft), 698)
A.segs(wall, ft, np.full(len(ft), 32.5), wall, ft, fz, [fcols[i % 6] for i in range(len(ft))], 2)
wt2, wz2 = pair(A_wall2_t, A_wall2_z)
wall = np.full(len(wt2), 698)
A.segs(wall, wt2, np.full(len(wt2), 32.5), wall, wt2, wz2, [PAL[k] for k in A_wall2_col], 2)
wt2, wz2 = pair(A_wall_t, A_wall_z)
wall = np.full(len(wt2), 698)
A.segs(wall, wt2, np.full(len(wt2), 32.5), wall, wt2, wz2, [PAL[k] for k in A_wall_col], 2.6)
lt2, ltop = pair(A_low_t, A_low_top)
wall = np.full(len(lt2), 698)
A.segs(wall, lt2, np.full(len(lt2), -33), wall, lt2, ltop, [PAL[k] for k in A_low_col], 2.2)
A.segs(wall, lt2, np.full(len(lt2), -33), wall, lt2, np.full(len(lt2), -29.0), "#3a44b4", 2.2)
A.segs([698], [30], [31.9], [698], [0], [31.9], "#fff200", 8)
A.segs([698], [16], [-32.6], [698], [0], [-32.6], "#4438a8", 3.5)
A.segs([698], [0], [32.5], [698], [0], [14], "#e6e030", 4)
A.segs([698], [0], [-2], [698], [0], [-33], "#4a3cb0", 3)

# spikes under the edges, then the surface
lst, lsz = pair(A_left_spike_t, A_left_spike_z)
A.clamp_bands(np.zeros(len(lst)), lst, lsz, 1.5, [(-99, "#1e8fe0"), (-5.5, "#00a5cc"), (-3, TEAL)])
fsc, fsz = pair(A_front_spike_c, A_front_spike_z)
down_lines(A, fsc, np.zeros(len(fsc)), fsz, -6, "#1a8fe0", "#3a3cb0", 4)
flc, flz = pair(A_front_line_c, A_front_line_z)
down_lines(A, flc, np.zeros(len(flc)), flz, -5, "#1a8fe0", "#3b3fb8", 3)

surface(A, A_back_z, A_left_z, A_front_c, A_front_z, TEAL)
sc = np.array(STREAK_CHANNELS, float)
A.segs(sc, np.zeros(len(sc)), np.zeros(len(sc)), sc, np.full(len(sc), 30), np.zeros(len(sc)),
       ["#12c09a", "#00b0b0"] * 12, 4, .2)
A.poly([252, 282, 305, 272], [30, 30, 0, 0], [1.5, 2.8, 2.8, 1.5], "#10bf94")
A.poly([268, 282, 305, 290], [30, 30, 0, 0], [2.6, 2.8, 2.8, 2.6], "#28c868", .8)
sgc, sgz = pair(A_sag_c, A_sag_z)
A.bands(sgc, np.zeros(len(sgc)), sgz, 1, [(1, "#1f86e6"), (.8, "#0a9bd6"), (.6, "#00a4cc"), (.4, "#00abbc"), (.2, "#02b2b0")])

spc, spt = pair(A_speck_c, A_speck_t)
A.segs(spc, spt, np.zeros(len(spc)), spc, spt, np.full(len(spc), 1.3), ["#12c088", "#10a8c0", "#18c878"] * 20, 5, .8)
events(A, np.array(A_event_c, float), np.array(A_event_t, float), np.array(A_event_z, float), A_event_col)

rt, rz = pair(A_ridge_t, A_ridge_z)
et, ez = pair(A_extra_t, A_extra_z)
flt, flz = pair(A_floor_t, A_floor_z)
ridge(A, lambda t: 305 - 0.767 * t, rt, rz, et, ez, flt, flz, 3.2, "#ffff00", "#eeb23c",
      [(1, "#ffff00"), (.68, "#ffee10"), (.46, "#ffcc1c"), (.26, "#f0b43a")])

A.axes(A_SIGNAL_TICKS, A_SIGNAL_LABELS)
times10(A, 90, 201)
times10(A, 266, 1086)
A.text([37], [595], ["Signal"], size="22px", angle=np.pi / 2)
A.text([772], [1233], ["Time(s)"], size="23px")
A.text([1845], [1308], ["Channel (4 m per channel)"], size="23.5px")
A.text([1324], [1404], ["(a)"], size="76px", color="#000000", font=value("Liberation Serif"), style="bold")

pa.ellipse([588], [608], width=357, height=130, fill_color=None, line_color=RED, line_width=4.5)
A.text([599], [599], ["No events"], size="51px", color=RED)
A.text([916], [593], ["Events"], size="50px", color=RED)
A.text([1255], [288], ["Noise"], size="51px", color=RED)
arrow(pa, 1254, 343, 1271, 566)
arrow(pa, 945, 618, 1138, 680)
arrow(pa, 945, 618, 1071, 785)

# ====================== panel (b) ======================
pb = make_fig(1502, 3004)
B = Panel(pb, 1183, 2777, 1.936, -0.3557, -34.67, -10.73, 10.06, -30, 40)
B.frame(B_SIGNAL_TICKS)
GREEN = "#00c98a"

ht, hz = pair(B_haze_t, B_haze_z)
hc = np.full(len(ht), 698.0)
B.poly(np.r_[hc, hc], np.r_[ht, ht[::-1]], np.r_[hz, np.full(len(hz), -1.0)], "#dcd060", .45)
st, sz = pair(B_stem_t, B_stem_z)
sn = len(st)
stem_cols = ["#2f62d8", "#18b890", "#e0c840", "#3b46b8", "#20a8c0", "#d8a040", "#2f62d8"]
B.segs(np.full(sn, 698), st, np.full(sn, -1.0), np.full(sn, 698), st, sz, [stem_cols[i % 7] for i in range(sn)], 2.6)
bt, bz = pair(B_spike_t, B_spike_z)
bn = len(bt)
low_cols = ["#2f62d8", "#18b890", "#3b46b8", "#14b4a8"]
up_cols = ["#f4e21c", "#5cd060", "#b8d838", "#f0d020"]
B.segs(np.full(bn, 698), bt, np.full(bn, -1.0), np.full(bn, 698), bt, bz * .5, [low_cols[i % 4] for i in range(bn)], 3)
B.segs(np.full(bn, 698), bt, bz * .5, np.full(bn, 698), bt, bz, [up_cols[i % 4] for i in range(bn)], 3)

lst, lsz = pair(B_left_spike_t, B_left_spike_z)
B.clamp_bands(np.zeros(len(lst)), lst, lsz, 1, [(-99, "#10b0e0"), (-5, "#00b8b8"), (-2.5, GREEN)])
flc, flz = pair(B_front_line_c, B_front_line_z)
line_tops = ["#10b8a0", "#2a9ad8", "#18b890", "#20a8c8"]
B.segs(flc, np.zeros(len(flc)), np.full(len(flc), -.5), flc, np.zeros(len(flc)), np.maximum(flz, -5.0),
       [line_tops[i % 4] for i in range(len(flc))], 3)
B.segs(flc, np.zeros(len(flc)), np.maximum(flz, -5.0), flc, np.zeros(len(flc)), flz,
       ["#2f62d8", "#3b46b8", "#2a70dc", "#7a5a98"] * 10, 3)

surface(B, B_back_z, B_left_z, B_front_c, B_front_z, GREEN)
B.segs(sc, np.zeros(len(sc)), np.zeros(len(sc)), sc, np.full(len(sc), 30), np.zeros(len(sc)),
       ["#10c878", "#00b898"] * 12, 5, .35)
B.poly([252, 281, 312, 285], [30, 30, 0, 0], [1.5, 2.8, 2.8, 1.5], "#10cc44")
B.poly([262, 274, 303, 292], [30, 30, 0, 0], [2.2, 2.2, 2.2, 2.2], "#00c76a", .7)
sgc, sgz = pair(B_sag_c, B_sag_z)
B.bands(sgc, np.zeros(len(sgc)), sgz, 1, [(1, "#00aee0"), (.8, "#00b4c8"), (.55, "#00baae"), (.35, "#00c09c"), (.18, "#00c590")])

spc, spt = pair(B_speck_c, B_speck_t)
B.segs(spc, spt, np.zeros(len(spc)), spc, spt, np.full(len(spc), 1.6), ["#10cc50", "#20c860", "#00b898"] * 22, 7, .9)
events(B, np.array(B_event_c, float), np.array(B_event_t, float), np.array(B_event_z, float), B_event_col)

rt, rz = pair(B_ridge_t, B_ridge_z)
et, ez = pair(B_extra_t, B_extra_z)
flt, flz = pair(B_floor_t, B_floor_z)
ridge(B, lambda t: 312 - 1.03 * t, rt, rz, et, ez, flt, flz, 2.5, "#ffd800", "#e8b040",
      [(1, "#ffe000"), (.7, "#ffcc10"), (.45, "#f6b624"), (.25, "#eab040")])

B.axes(B_SIGNAL_TICKS, B_SIGNAL_LABELS)
times10(B, 109, 1687)
times10(B, 286, 2617)
B.text([58], [2103], ["Signal"], size="22px", angle=np.pi / 2)
B.text([792], [2776], ["Time(s)"], size="23px")
B.text([1861], [2854], ["Channel (4 m per channel)"], size="23.5px")
B.text([1324], [2948], ["(b)"], size="76px", color="#000000", font=value("Liberation Serif"), style="bold")

pb.ellipse([690], [2163], width=344, height=154, fill_color=None, line_color=RED, line_width=4.5)
B.text([692], [2149], ["No events"], size="51px", color=RED)
B.text([1401], [1976], ["Events"], size="51px", color=RED)
arrow(pb, 1389, 2017, 1388, 2280)
arrow(pb, 1394, 2017, 1659, 2133)

tx, ty = B.xy([TIP_CHANNEL], [TIP_TIME], [TIP_SIGNAL])
pb.scatter(list(tx), list(ty), size=11, fill_color="#777777", line_color="#f4f4f4", line_width=2)
pb.quad(left=[1670], right=[1763], top=[2260], bottom=[2362], fill_color="#fffff2", line_color="#e8e8e0")
for yy, s in zip([2281, 2312, 2344], [f"X: {TIP_CHANNEL}", f"Y: {int(TIP_TIME * 1000)}", f"Z: {TIP_SIGNAL * 1000:.1f}"]):
    pb.text([1676], [yy], text=[s], text_font=TEXT_FONT, text_font_size="22px", text_color="#222222",
            text_align="left", text_baseline="middle")

layout = column(pa, pb, spacing=0)
open("out.html", "w").write(file_html(layout, INLINE))
